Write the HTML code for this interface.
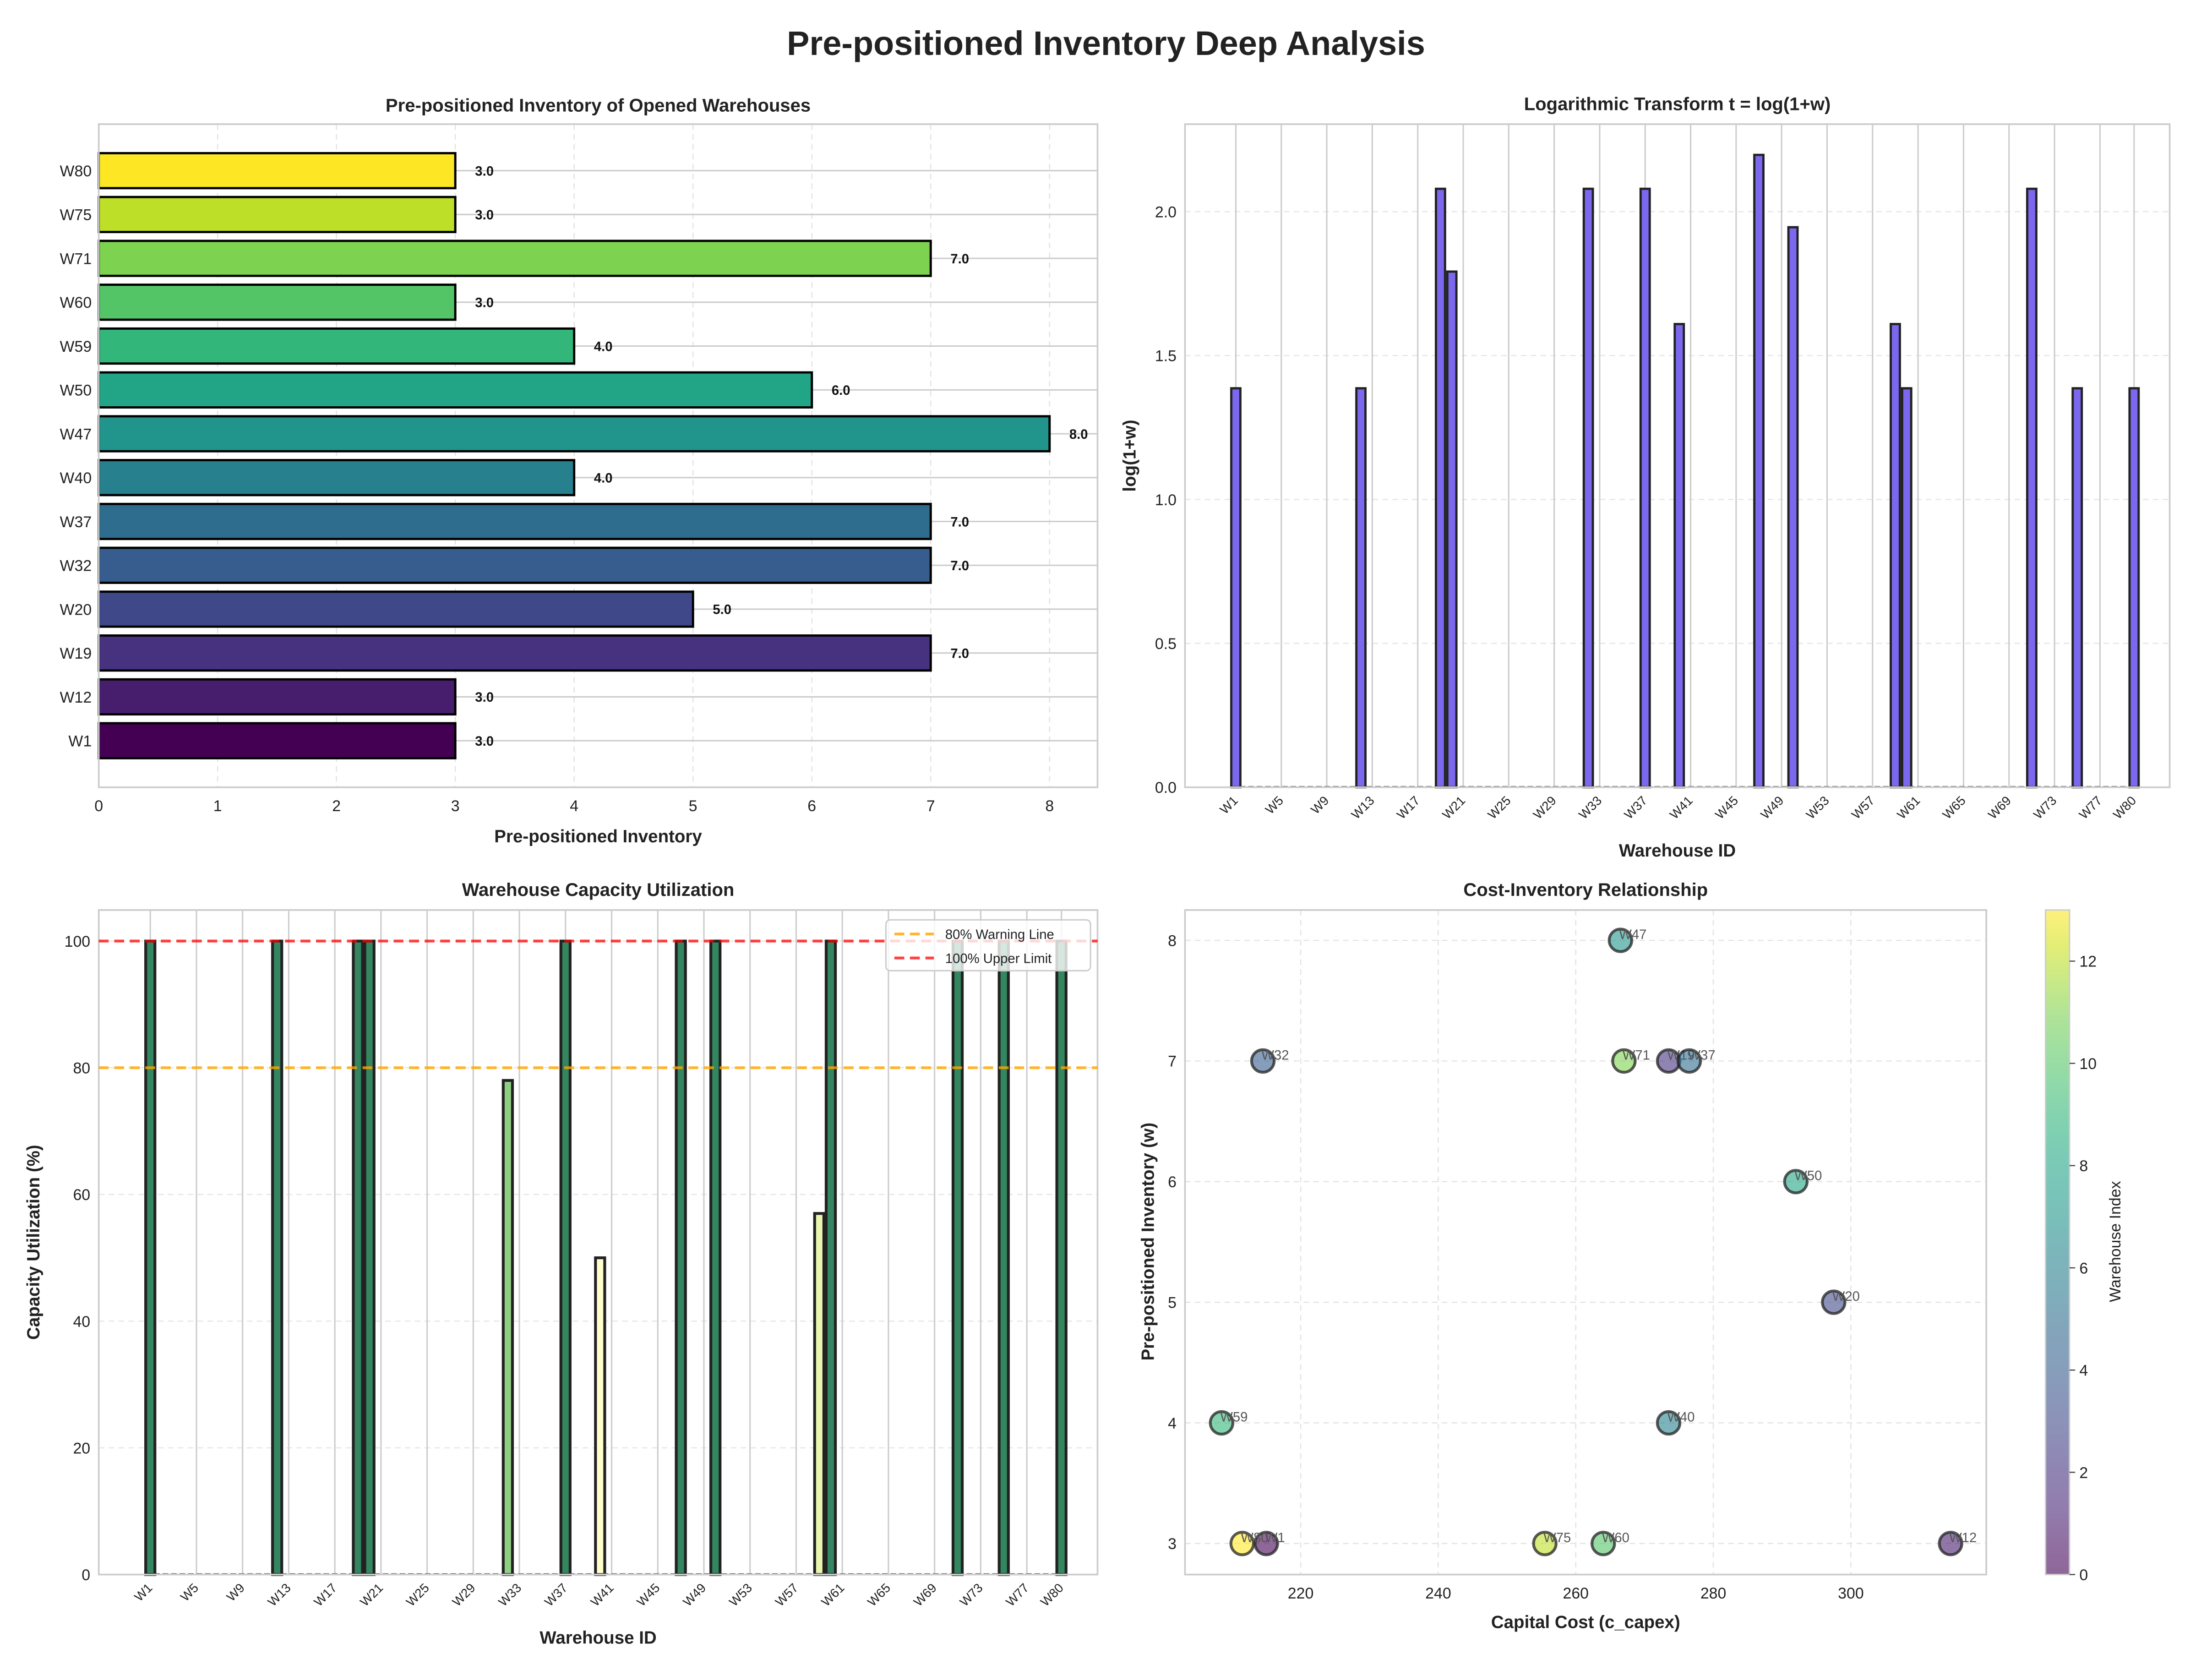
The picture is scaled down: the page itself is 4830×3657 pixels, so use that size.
<!DOCTYPE html>
<html><head><meta charset="utf-8"><style>html,body{margin:0;padding:0;background:#fff}svg{display:block}text{font-family:"Liberation Sans",Arial,sans-serif}</style></head>
<body>
<svg id="fig" width="4830" height="3657" viewBox="0 0 1568 1187.2" preserveAspectRatio="none" xmlns="http://www.w3.org/2000/svg">
<rect width="1568" height="1188" fill="#fff"/>
<text x="784" y="39" text-anchor="middle" font-size="24" font-weight="bold" fill="#222">Pre-positioned Inventory Deep Analysis</text>
<g id="g1"></g><g id="g2"></g><g id="g3"></g><g id="g4"></g>
</svg>
<script>
const names=["W1","W12","W19","W20","W32","W37","W40","W47","W50","W59","W60","W71","W75","W80"];
const idx=[0,11,18,19,31,36,39,46,49,58,59,70,74,79];
const inventory=[3,3,7,5,7,7,4,8,6,4,3,7,3,3];
const utilization=[100,100,100,100,78,100,50,100,100,57,100,100,100,100];
const capex=[215,314.5,273.5,297.5,214.5,276.5,273.5,266.5,292,208.5,264,267,255.5,211.5];
const xTickIdx=[0,4,8,12,16,20,24,28,32,36,40,44,48,52,56,60,64,68,72,76,79];
const NS="http://www.w3.org/2000/svg";
function mk(p,t,a,txt){const e=document.createElementNS(NS,t);for(const k in a)e.setAttribute(k,a[k]);if(txt!==undefined)e.textContent=txt;p.appendChild(e);return e;}
function lerpC(st,t){t=Math.max(0,Math.min(1,t));const n=st.length-1;const i=Math.min(n-1,Math.floor(t*n));const f=t*n-i;const a=st[i],b=st[i+1];const h=s=>[1,3,5].map(j=>parseInt(s.substr(j,2),16));const A=h(a),B=h(b);return 'rgb('+A.map((v,k)=>Math.round(v+(B[k]-v)*f)).join(',')+')';}
const VIR=["#440154","#471365","#482878","#46337f","#414487","#3b528b","#355f8d","#31688e","#2a788e","#26828e","#21918c","#1f9e89","#22a884","#2fb47c","#44bf70","#5ec962","#7ad151","#a5db36","#d2e21b","#fde725"];
const RYG=["#a50026","#d73027","#f46d43","#fdae61","#fee08b","#ffffbf","#d9ef8b","#a6d96a","#66bd63","#1a9850","#006837"];
function frame(g,x0,y0,x1,y1){mk(g,'rect',{x:x0,y:y0,width:x1-x0,height:y1-y0,fill:'none',stroke:'#cccccc','stroke-width':1.2});}

(function(){const g=document.getElementById('g1');const X0=70,X1=778,Y0=88,Y1=558;
const sx=v=>X0+v*84.25;const sy=i=>525-i*31.08;

for(let v=0;v<=8;v++){mk(g,'line',{x1:sx(v),x2:sx(v),y1:Y0,y2:Y1,stroke:'#e3e3e3','stroke-dasharray':'4,3','stroke-width':0.8});
const t=mk(g,'text',{x:sx(v),y:Y1+17,'text-anchor':'middle','font-size':11,fill:'#222'},v);}
names.forEach((n,i)=>{mk(g,'line',{x1:X0,x2:X1,y1:sy(i),y2:sy(i),stroke:'#cccccc','stroke-width':1});});
names.forEach((n,i)=>{const r=mk(g,'rect',{x:sx(0),y:sy(i)-12.4,width:sx(inventory[i])-sx(0),height:24.8,fill:lerpC(VIR,i/(names.length-1)),stroke:'#000','stroke-width':1.6});

const l=mk(g,'text',{x:sx(inventory[i])+14,y:sy(i)+3.5,'font-size':9.5,'font-weight':'bold',fill:'#111'},inventory[i].toFixed(1));
const t=mk(g,'text',{x:X0-5,y:sy(i)+4,'text-anchor':'end','font-size':11,fill:'#222'},n);});
frame(g,X0,Y0,X1,Y1);
mk(g,'text',{x:424,y:79,'text-anchor':'middle','font-size':13,'font-weight':'bold',fill:'#222',},'Pre-positioned Inventory of Opened Warehouses');
mk(g,'text',{x:424,y:597,'text-anchor':'middle','font-size':12.5,'font-weight':'bold',fill:'#222',},'Pre-positioned Inventory');
})();

function colPanel(g,X0,X1,Y0,Y1,vals,ymax,ticks,fmt,colorFn,title,ylab,ylabX,lw){
const sx=i=>X0+(i+4.47)*(X1-X0)/86.6;const sy=v=>Y1-v*(Y1-Y0)/ymax;const w=0.8*(X1-X0)/86.6;
ticks.forEach(v=>{mk(g,'line',{x1:X0,x2:X1,y1:sy(v),y2:sy(v),stroke:'#e6e6e6','stroke-dasharray':'4,3','stroke-width':0.8});
const t=mk(g,'text',{x:X0-6,y:sy(v)+4,'text-anchor':'end','font-size':11,fill:'#222'},fmt(v));});
xTickIdx.forEach(k=>{mk(g,'line',{x1:sx(k),x2:sx(k),y1:Y0,y2:Y1,stroke:'#cccccc','stroke-width':1});
const t=mk(g,'text',{x:sx(k)+2,y:Y1+10,'text-anchor':'end','font-size':9,fill:'#222',transform:'rotate(-45 '+(sx(k)+2)+' '+(Y1+10)+')'},'W'+(k+1));});
mk(g,'line',{x1:sx(-0.4),x2:sx(79.4),y1:Y1-0.5,y2:Y1-0.5,stroke:'#555','stroke-dasharray':'4,2','stroke-width':0.8});
vals.forEach((v,i)=>{const r=mk(g,'rect',{x:sx(idx[i])-w/2,y:sy(v),width:w,height:sy(0)-sy(v),fill:colorFn(v,i),stroke:'#222','stroke-width':lw});
});
frame(g,X0,Y0,X1,Y1);
mk(g,'text',{x:(X0+X1)/2,y:Y0-10,'text-anchor':'middle','font-size':13,'font-weight':'bold',fill:'#222',},title);
mk(g,'text',{x:(X0+X1)/2,y:Y1+49,'text-anchor':'middle','font-size':12.5,'font-weight':'bold',fill:'#222',},'Warehouse ID');
mk(g,'text',{x:ylabX,y:(Y0+Y1)/2,'text-anchor':'middle','font-size':12.5,'font-weight':'bold',fill:'#222',transform:'rotate(-90 '+ylabX+' '+((Y0+Y1)/2)+')',},ylab);
return {sx,sy};}

(function(){const g=document.getElementById('g2');
const lv=inventory.map(v=>Math.log(1+v));
colPanel(g,840,1538,88,558,lv,2.304,[0,0.5,1,1.5,2],v=>v.toFixed(1),()=>'#7b68ee','Logarithmic Transform t = log(1+w)','log(1+w)',805,1.6);
})();

(function(){const g=document.getElementById('g3');
const a=colPanel(g,70,778,645,1116,utilization,104.9,[0,20,40,60,80,100],v=>v,(v)=>{const c=lerpC(RYG,v/100).match(/\d+/g).map(Number);return 'rgb('+c.map(x=>Math.round(x*0.8+255*0.2)).join(',')+')';},'Warehouse Capacity Utilization','Capacity Utilization (%)',28,2);
const l1=mk(g,'line',{x1:70,x2:778,y1:a.sy(80),y2:a.sy(80),stroke:'#ffa500','stroke-opacity':0.8,'stroke-dasharray':'7,4','stroke-width':2});
const l2=mk(g,'line',{x1:70,x2:778,y1:a.sy(100),y2:a.sy(100),stroke:'#ff0000','stroke-opacity':0.75,'stroke-dasharray':'7,4','stroke-width':2});
const lg=mk(g,'g',{});
mk(lg,'rect',{x:628,y:652,width:145,height:36,rx:3,fill:'#fff','fill-opacity':0.8,stroke:'#ccc','stroke-width':1});
mk(lg,'line',{x1:634,x2:662,y1:662,y2:662,stroke:'#ffa500','stroke-opacity':0.8,'stroke-dasharray':'7,4','stroke-width':2});
mk(lg,'text',{x:670,y:665.5,'font-size':9.5,fill:'#222',},'80% Warning Line');
mk(lg,'line',{x1:634,x2:662,y1:679,y2:679,stroke:'#ff0000','stroke-opacity':0.75,'stroke-dasharray':'7,4','stroke-width':2});
mk(lg,'text',{x:670,y:682.5,'font-size':9.5,fill:'#222',},'100% Upper Limit');
})();

(function(){const g=document.getElementById('g4');
const X0=840,X1=1408,Y0=645,Y1=1116;const sx=v=>922+(v-220)*4.875;const sy=v=>1094-(v-3)*85.5;
[220,240,260,280,300].forEach(v=>{mk(g,'line',{x1:sx(v),x2:sx(v),y1:Y0,y2:Y1,stroke:'#e3e3e3','stroke-dasharray':'4,3','stroke-width':0.8});
const t=mk(g,'text',{x:sx(v),y:Y1+17,'text-anchor':'middle','font-size':11,fill:'#222'},v);});
[3,4,5,6,7,8].forEach(v=>{mk(g,'line',{x1:X0,x2:X1,y1:sy(v),y2:sy(v),stroke:'#e3e3e3','stroke-dasharray':'4,3','stroke-width':0.8});
const t=mk(g,'text',{x:X0-6,y:sy(v)+4,'text-anchor':'end','font-size':11,fill:'#222'},v);});
names.forEach((n,i)=>{const c=mk(g,'circle',{cx:sx(capex[i]),cy:sy(inventory[i]),r:8,fill:lerpC(VIR,i/13),'fill-opacity':0.6,stroke:'#222','stroke-width':2,'stroke-opacity':0.75});

const t=mk(g,'text',{x:sx(capex[i])-1,y:sy(inventory[i])-1,'font-size':9.5,fill:'#555'},n);});
frame(g,X0,Y0,X1,Y1);
mk(g,'text',{x:1124,y:635,'text-anchor':'middle','font-size':13,'font-weight':'bold',fill:'#222',},'Cost-Inventory Relationship');
mk(g,'text',{x:1124,y:1154,'text-anchor':'middle','font-size':12.5,'font-weight':'bold',fill:'#222',},'Capital Cost (c_capex)');
mk(g,'text',{x:818,y:880,'text-anchor':'middle','font-size':12.5,'font-weight':'bold',fill:'#222',transform:'rotate(-90 818 880)',},'Pre-positioned Inventory (w)');
const cb=mk(g,'g',{});
const defs=mk(cb,'defs',{});const lgd=mk(defs,'linearGradient',{id:'vg',x1:0,y1:1,x2:0,y2:0});
VIR.forEach((c,k)=>mk(lgd,'stop',{offset:k/(VIR.length-1),'stop-color':c}));
mk(cb,'rect',{x:1450,y:645,width:17,height:471,fill:'url(#vg)','fill-opacity':0.6});
mk(cb,'rect',{x:1450,y:645,width:17,height:471,fill:'none',stroke:'#ccc','stroke-width':1});
[0,2,4,6,8,10,12].forEach(v=>{const y=1116-v/13*471;mk(cb,'line',{x1:1467,x2:1471,y1:y,y2:y,stroke:'#444','stroke-width':0.8});
const t=mk(cb,'text',{x:1474,y:y+4,'font-size':11,fill:'#222'},v);});
mk(cb,'text',{x:1503,y:880,'text-anchor':'middle','font-size':11,fill:'#222',transform:'rotate(-90 1503 880)',},'Warehouse Index');
})();
</script>
</body></html>
